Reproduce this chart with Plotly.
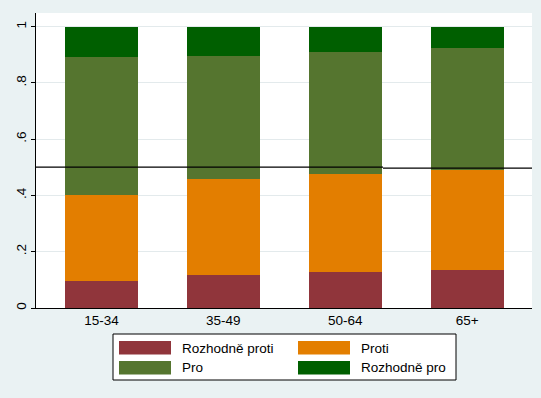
import plotly.graph_objects as go

# ---- data ----
categories = ["15-34", "35-49", "50-64", "65+"]
series_names = ["Rozhodně proti", "Proti", "Pro", "Rozhodně pro"]
rozhodne_proti = [0.097, 0.118, 0.129, 0.136]
proti = [0.305, 0.341, 0.349, 0.355]
pro = [0.490, 0.438, 0.432, 0.433]
rozhodne_pro = [0.108, 0.103, 0.090, 0.076]
series_values = [rozhodne_proti, proti, pro, rozhodne_pro]
series_colors = ["#90353b", "#e37e00", "#55752f", "#005f00"]
ref_line_values = [0.501, 0.497]
y_tickvals = [0, 0.2, 0.4, 0.6, 0.8, 1]
y_ticktext = ["0", ".2", ".4", ".6", ".8", "1"]

BG = "#eaf2f3"
FONT = "Liberation Sans, Arial, Helvetica, sans-serif"
W, H = 541, 398
ML, MR, MT, MB = 36, 9, 13, 90
PW, PH = W - ML - MR, H - MT - MB

fig = go.Figure()
for name, vals, col in zip(series_names, series_values, series_colors):
    fig.add_trace(go.Bar(x=categories, y=vals, name=name, marker_color=col,
                         marker_line_width=0, width=0.596, showlegend=False))

# reference line at 0.5 (two segments as in the original)
split = (383 - ML) / PW
fig.add_shape(type="line", xref="paper", yref="y", x0=0, x1=split,
              y0=ref_line_values[0], y1=ref_line_values[0],
              line=dict(color="black", width=1.3))
fig.add_shape(type="line", xref="paper", yref="y", x0=split, x1=1,
              y0=ref_line_values[1], y1=ref_line_values[1],
              line=dict(color="black", width=1.3))

def px_x(p):
    return (p - ML) / PW

def px_y(p):
    return (H - MB - p) / PH

# custom legend box
fig.add_shape(type="rect", xref="paper", yref="paper",
              x0=px_x(113), x1=px_x(456), y0=px_y(380), y1=px_y(334),
              line=dict(color="black", width=1), fillcolor="white", layer="above")
legend_pos = [(119, 341), (298, 341), (119, 361), (298, 361)]
for (lx, ly), name, col in zip(legend_pos, series_names, series_colors):
    fig.add_shape(type="rect", xref="paper", yref="paper",
                  x0=px_x(lx), x1=px_x(lx + 52), y0=px_y(ly + 13.5), y1=px_y(ly),
                  line=dict(width=0), fillcolor=col, layer="above")
    fig.add_annotation(xref="paper", yref="paper", x=px_x(lx + 61), y=px_y(ly + 7),
                       text=name, showarrow=False, xanchor="left", yanchor="middle",
                       font=dict(family=FONT, size=13.5, color="black"))

fig.update_layout(
    barmode="stack",
    width=W, height=H,
    margin=dict(l=ML, r=MR, t=MT, b=MB),
    paper_bgcolor=BG,
    plot_bgcolor="white",
    bargap=0.4,
    font=dict(family=FONT, size=13.5, color="black"),
    xaxis=dict(range=[-0.5365, 3.531], showgrid=False, showline=True,
               linecolor="black", linewidth=1, ticks="", zeroline=False,
               tickfont=dict(size=13.5), fixedrange=True),
    yaxis=dict(range=[0, 1.0487], tickvals=y_tickvals, ticktext=y_ticktext,
               showgrid=True, gridcolor="#e3eaec", gridwidth=1,
               showline=True, linecolor="black", linewidth=1,
               ticks="outside", ticklen=4, tickcolor="black",
               tickangle=-90, zeroline=False, tickfont=dict(size=13.5)),
)

fig.write_html(
    "out.html",
    config={"displayModeBar": False},
    post_script="document.body.style.margin='0';document.body.style.padding='0';"
                "document.body.style.background='#eaf2f3';"
                "document.body.style.overflow='hidden';",
)
